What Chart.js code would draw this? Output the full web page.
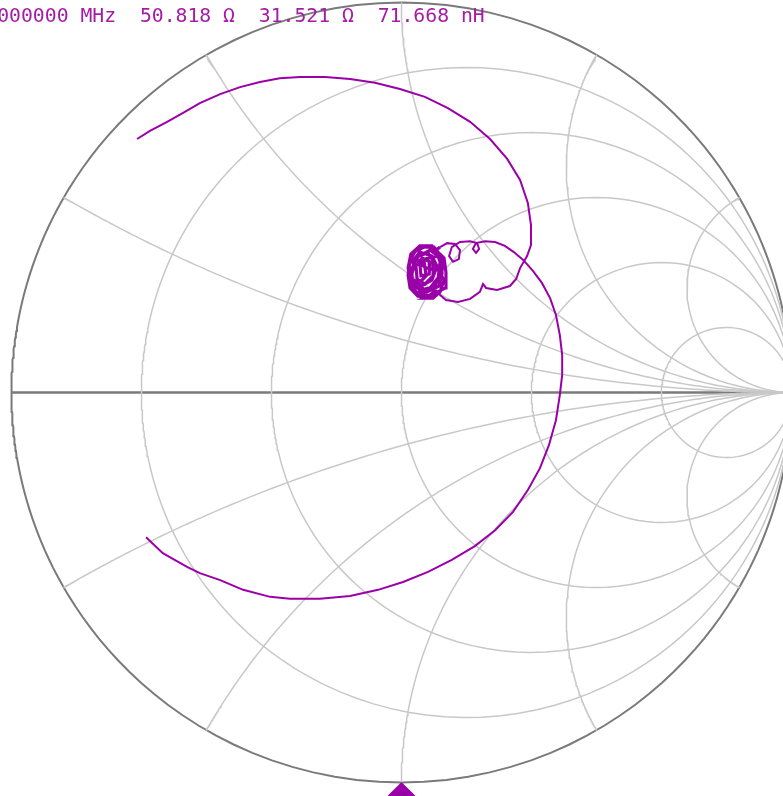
<!DOCTYPE html>
<html>
<head>
<meta charset="utf-8">
<script src="https://cdn.jsdelivr.net/npm/chart.js@4"></script>
<style>
  html, body { margin: 0; padding: 0; overflow: hidden; background: #fff; width: 783px; height: 796px; }
  #wrap { position: absolute; left: 0; top: 0; width: 800px; height: 796px; }
  #readout { position: absolute; left: -2.8px; top: 6.3px; font: 19.76px/1 "DejaVu Sans Mono", monospace;
             color: #a51ca5; white-space: pre; }
</style>
</head>
<body>
<div id="wrap"><canvas id="smith" width="800" height="796"></canvas></div>
<div id="readout"></div>
<script>
// Marker readout: frequency, resistance, reactance, equivalent inductance
const readoutFields = ['000000 MHz', '50.818 Ω', '31.521 Ω', '71.668 nH'];

// Smith grid: normalised resistance circles and reactance arcs (arcs meet the rim every 30°)
const resistanceLines = [0.2, 0.5, 1, 2, 5];
const reactanceLines = [0.268, 0.577, 1, 1.732, 3.732];

// Measured reflection coefficient, real and imaginary parts, in sweep order
const gammaRe = [
  -0.678, -0.645, -0.601, -0.560, -0.517, -0.465, -0.414, -0.363, -0.312, -0.260,
  -0.196, -0.132, -0.068, -0.004, 0.060, 0.119, 0.176, 0.227, 0.271, 0.304,
  0.324, 0.332, 0.332, 0.322, 0.304, 0.294, 0.278, 0.245, 0.217, 0.209,
  0.201, 0.176, 0.145, 0.114, 0.099,
  0.088, 0.068, 0.042, 0.022, 0.017, 0.022, 0.037, 0.063, 0.088, 0.099,
  0.094, 0.073, 0.047, 0.029, 0.027, 0.042, 0.068, 0.083, 0.081, 0.060,
  0.040, 0.037, 0.053, 0.073, 0.071, 0.050, 0.047, 0.065, 0.094, 0.109,
  0.099, 0.081, 0.060, 0.073, 0.037, 0.019, 0.019, 0.032, 0.058, 0.083, 0.101,
  0.106, 0.088, 0.058, 0.032, 0.024, 0.037, 0.073, 0.094,
  0.027, 0.047, 0.078, 0.091, 0.078, 0.050, 0.024, 0.032, 0.058, 0.063,
  0.042, 0.065, 0.096, 0.104, 0.101, 0.078, 0.047, 0.024, 0.017, 0.027,
  0.053, 0.083, 0.112, 0.114, 0.109, 0.088, 0.099,
  0.117, 0.137, 0.150, 0.147, 0.132, 0.122, 0.129, 0.150, 0.176, 0.194,
  0.199, 0.191, 0.183, 0.191, 0.214, 0.240, 0.265, 0.288, 0.312, 0.337,
  0.360, 0.381, 0.396, 0.406, 0.412, 0.412, 0.406, 0.396, 0.378, 0.355,
  0.324, 0.286, 0.240, 0.188, 0.129, 0.068, 0.004, -0.060, -0.132, -0.209,
  -0.286, -0.337, -0.406, -0.465, -0.517, -0.550, -0.612, -0.655
];
const gammaIm = [
  0.650, 0.671, 0.694, 0.717, 0.742, 0.765, 0.783, 0.796, 0.806, 0.809,
  0.809, 0.804, 0.794, 0.778, 0.758, 0.729, 0.694, 0.650, 0.599, 0.545,
  0.486, 0.429, 0.378, 0.350, 0.319, 0.291, 0.273, 0.263, 0.268, 0.278,
  0.258, 0.240, 0.232, 0.237, 0.250,
  0.263, 0.245, 0.247, 0.268, 0.301, 0.340, 0.365, 0.376, 0.365, 0.335,
  0.294, 0.268, 0.263, 0.283, 0.319, 0.350, 0.358, 0.335, 0.299, 0.278,
  0.291, 0.324, 0.345, 0.335, 0.304, 0.299, 0.329, 0.319, 0.314, 0.288,
  0.258, 0.242, 0.242, 0.247, 0.258, 0.288, 0.329, 0.360, 0.373, 0.373, 0.350,
  0.319, 0.278, 0.258, 0.273, 0.309, 0.345, 0.365, 0.350,
  0.335, 0.360, 0.350, 0.324, 0.288, 0.273, 0.294, 0.324, 0.335, 0.299,
  0.278, 0.258, 0.273, 0.304, 0.335, 0.376, 0.376, 0.355, 0.319, 0.263,
  0.242, 0.253, 0.268, 0.309, 0.345, 0.365, 0.373,
  0.383, 0.381, 0.365, 0.342, 0.335, 0.350, 0.373, 0.386, 0.388, 0.383,
  0.368, 0.358, 0.368, 0.383, 0.388, 0.386, 0.376, 0.360, 0.340, 0.312,
  0.281, 0.242, 0.199, 0.147, 0.096, 0.045, -0.006, -0.071, -0.135, -0.194,
  -0.250, -0.306, -0.353, -0.394, -0.429, -0.460, -0.486, -0.506, -0.522, -0.529,
  -0.529, -0.524, -0.506, -0.481, -0.463, -0.447, -0.412, -0.371
];

// Sweep points (first and last index) where the trace settles into its tight cluster
const clusterSpan = [35, 110];

// Reference marker sitting on the bottom rim
const refMarker = { re: 0, im: -1.037 };

const TRACE = '#9a00a8';
const GRID = '#c8c8c8';
const FRAME = '#7a7a7a';

// Map a normalised impedance r + jx onto the reflection-coefficient plane
function toGamma(r, x) {
  const d = (r + 1) * (r + 1) + x * x;
  return { x: (r * r - 1 + x * x) / d, y: (2 * x) / d };
}

// Log-spaced sweep used to trace grid loci from 0 to "infinity"
const sweep = [0];
for (let k = -160; k <= 240; k++) sweep.push(Math.pow(10, k / 40));

function resistanceLocus(r) {
  const pts = [];
  for (let i = sweep.length - 1; i >= 1; i--) pts.push(toGamma(r, -sweep[i]));
  pts.push(toGamma(r, 0));
  for (let i = 1; i < sweep.length; i++) pts.push(toGamma(r, sweep[i]));
  return pts;
}
function reactanceLocus(x) {
  return sweep.map(r => toGamma(r, x));
}

function gridSet(data, color, width) {
  return { data, showLine: true, borderColor: color, borderWidth: width, pointRadius: 0,
           tension: 0, fill: false, order: 10 };
}

const datasets = [];
datasets.push({
  data: gammaRe.map((v, i) => ({ x: v, y: gammaIm[i] })),
  showLine: true, borderColor: TRACE, borderWidth: 2, pointRadius: 0, tension: 0,
  fill: false, order: 0,
  segment: {
    borderWidth: ctx => (ctx.p0DataIndex >= clusterSpan[0] && ctx.p1DataIndex <= clusterSpan[1]) ? 3.2 : 2
  }
});
datasets.push({
  data: [{ x: refMarker.re, y: refMarker.im }],
  pointStyle: 'rectRot', pointRadius: 15, backgroundColor: TRACE, borderWidth: 0,
  showLine: false, order: 1
});
resistanceLines.forEach(r => datasets.push(gridSet(resistanceLocus(r), GRID, 1.5)));
reactanceLines.forEach(x => {
  datasets.push(gridSet(reactanceLocus(x), GRID, 1.5));
  datasets.push(gridSet(reactanceLocus(-x), GRID, 1.5));
});
// Outer rim (r = 0) and real axis (x = 0)
datasets.push(gridSet(resistanceLocus(0), FRAME, 2));
datasets.push(gridSet(reactanceLocus(0), FRAME, 2.4));

// Plot geometry: unit circle centred at (401.5, 392.5) with radius 390 px on an 800 x 796 canvas
const CX = 401.5, CY = 392.5, RAD = 390, W = 800, H = 796;

new Chart(document.getElementById('smith'), {
  type: 'scatter',
  data: { datasets },
  options: {
    responsive: false,
    animation: false,
    devicePixelRatio: 1,
    events: [],
    layout: { padding: 0, autoPadding: false },
    plugins: { legend: { display: false }, tooltip: { enabled: false }, title: { display: false } },
    scales: {
      x: { type: 'linear', display: false, bounds: 'data', min: -CX / RAD, max: (W - CX) / RAD },
      y: { type: 'linear', display: false, bounds: 'data', min: -(H - CY) / RAD, max: CY / RAD }
    }
  }
});

document.getElementById('readout').textContent = readoutFields.join('  ');
</script>
</body>
</html>
